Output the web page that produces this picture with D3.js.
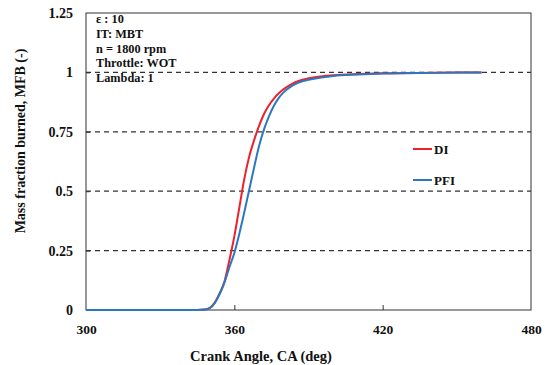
<!DOCTYPE html>
<html><head><meta charset="utf-8">
<script src="https://cdn.jsdelivr.net/npm/d3@7"></script>
<style>
body{margin:0;background:#fff;}
text{font-family:"Liberation Serif","Times New Roman",serif;font-weight:bold;fill:#111;}
</style></head>
<body><svg id="c" width="545" height="365"></svg>
<script>
const crankAngle = [300,345,348,350,352,354,356,358,360,362,364,366,368,370,372,374,376,378,380,383,386,390,395,400,410,420,440,460];
const mfbDI  = [0,0,0.002,0.008,0.03,0.07,0.12,0.21,0.31,0.43,0.55,0.645,0.715,0.775,0.825,0.862,0.89,0.912,0.93,0.95,0.964,0.975,0.983,0.988,0.993,0.996,0.999,1.0];
const mfbPFI = [0,0,0.002,0.008,0.028,0.065,0.115,0.18,0.24,0.32,0.41,0.505,0.6,0.69,0.76,0.815,0.86,0.893,0.917,0.941,0.957,0.969,0.978,0.985,0.991,0.995,0.998,1.0];
const xTicks = [300,360,420,480];
const yTicks = [0,0.25,0.5,0.75,1,1.25];
const yTickLabels = ["0","0.25","0.5","0.75","1","1.25"];
const gridVals = [0.25,0.5,0.75,1];
const infoLines = ["\u03b5  : 10","IT: MBT","n = 1800 rpm","Throttle: WOT","Lambda: 1"];
const seriesNames = ["DI","PFI"];
const seriesColors = ["#f0202a","#2a78c0"];

const svg = d3.select("#c");
const L=86,R=531,T=13,B=310;
const x = d3.scaleLinear().domain([300,480]).range([L,R]);
const y = d3.scaleLinear().domain([0,1.25]).range([B,T]);

// grid
svg.append("g").selectAll("line").data(gridVals).join("line")
  .attr("x1",L).attr("x2",R).attr("y1",d=>y(d)).attr("y2",d=>y(d))
  .attr("stroke","#333").attr("stroke-width",1.2).attr("stroke-dasharray","5,4");

// frame
svg.append("rect").attr("x",L).attr("y",T).attr("width",R-L).attr("height",B-T)
  .attr("fill","none").attr("stroke","#333").attr("stroke-width",1);

// axes
const xAx = d3.axisBottom(x).tickValues(xTicks).tickSize(-5).tickPadding(14).tickFormat(d3.format("d"));
const gx = svg.append("g").attr("transform",`translate(0,${B})`).call(xAx);
gx.select(".domain").remove();
gx.selectAll(".tick line").attr("stroke","#333").filter(d=>d===300||d===480).remove();
gx.selectAll("text").attr("font-size",13.5).attr("font-family","Liberation Serif").attr("font-weight","bold").attr("fill","#111");

const yAx = d3.axisLeft(y).tickValues(yTicks).tickSize(-4).tickPadding(13).tickFormat((d,i)=>yTickLabels[i]);
const gy = svg.append("g").attr("transform",`translate(${L},0)`).call(yAx);
gy.select(".domain").remove();
gy.selectAll(".tick line").attr("stroke","#333").filter(d=>d===0||d===1.25).remove();
gy.selectAll("text").attr("font-size",14).attr("font-family","Liberation Serif").attr("font-weight","bold").attr("fill","#111");

// axis titles
svg.append("text").attr("x",261).attr("y",361).attr("text-anchor","middle").attr("font-size",14.5)
  .text("Crank Angle, CA (deg)");
svg.append("text").attr("transform","translate(25,141) rotate(-90)").attr("text-anchor","middle").attr("font-size",14)
  .text("Mass fraction burned, MFB (-)");

// curves
const line = d3.line().x(d=>x(d[0])).y(d=>y(d[1])).curve(d3.curveMonotoneX);
const series = [mfbDI, mfbPFI];
series.forEach((vals,i)=>{
  svg.append("path").datum(crankAngle.map((a,j)=>[a,vals[j]]))
    .attr("d",line).attr("fill","none").attr("stroke",seriesColors[i]).attr("stroke-width",2);
});

// legend
seriesNames.forEach((n,i)=>{
  const ly = 149 + i*31;
  svg.append("line").attr("x1",413).attr("x2",432).attr("y1",ly).attr("y2",ly)
    .attr("stroke",seriesColors[i]).attr("stroke-width",2);
  svg.append("text").attr("x",434).attr("y",ly+4.5).attr("font-size",13).text(n);
});

// info text
svg.append("g").selectAll("text").data(infoLines).join("text")
  .attr("x",96).attr("y",(d,i)=>23+i*14.8).attr("font-size",12.3).text(d=>d);
</script></body></html>
